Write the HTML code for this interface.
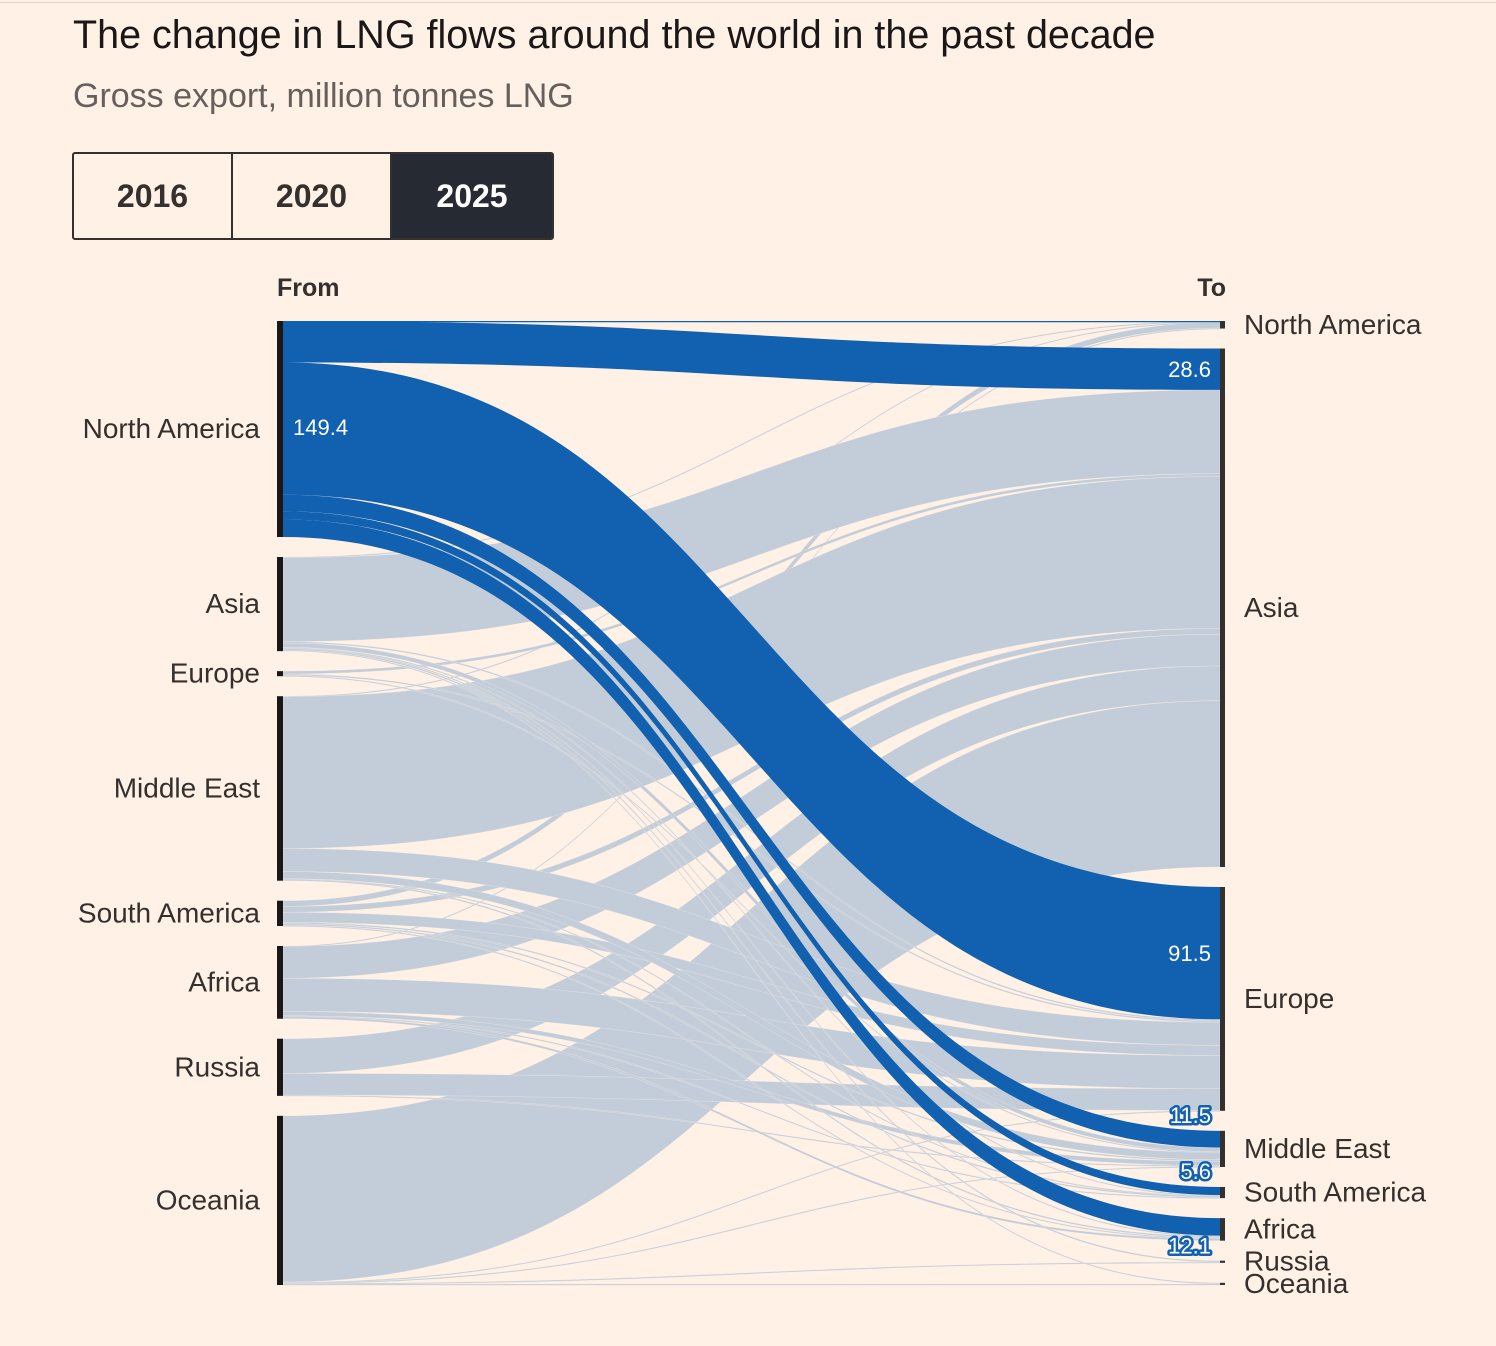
<!DOCTYPE html>
<html><head><meta charset="utf-8">
<style>
body{margin:0;background:#fff1e5;font-family:"Liberation Sans",sans-serif;}
#wrap{position:relative;width:1496px;height:1346px;overflow:hidden;background:#fff1e5;}
.title{position:absolute;left:73px;top:13px;font-size:39.5px;color:#1a1817;}
.sub{position:absolute;left:73px;top:77px;font-size:34px;color:#66605c;}
.btns{position:absolute;left:72px;top:152px;display:flex;border:2px solid #33302e;border-radius:3px;overflow:hidden;height:84px;}
.btn{width:157px;display:flex;align-items:center;justify-content:center;font-weight:bold;font-size:32px;color:#33302e;border-right:2px solid #33302e;}
.btn:last-child{border-right:none;background:#262a33;color:#fff;width:160px}
svg{position:absolute;left:0;top:0}
</style></head><body>
<div id="wrap">
<div style="position:absolute;left:0;top:2px;width:1496px;height:1px;background:#e0d6cc"></div>
<div class="title">The change in LNG flows around the world in the past decade</div>
<div class="sub">Gross export, million tonnes LNG</div>
<div class="btns">
<div class="btn">2016</div>
<div class="btn">2020</div>
<div class="btn">2025</div>
</div>
<svg id="chart" width="1496" height="1346"></svg>
</div>
<script>
const regions = ["North America","Asia","Europe","Middle East","South America","Africa","Russia","Oceania"];
// flows[source] = values to each target (same order as regions)
const flowsNorthAmerica = [0.1, 28.6, 91.5, 11.5, 5.6, 12.1, 0, 0];
const flowsAsia         = [0.5, 58, 1, 3, 0.3, 0.5, 1, 0.8];
const flowsEurope       = [0, 2, 1, 0.5, 0, 0, 0, 0];
const flowsMiddleEast   = [0.3, 105, 16, 5, 0.3, 1, 0, 0];
const flowsSouthAmerica = [4, 4, 7, 1, 1, 0.5, 0, 0];
const flowsAfrica       = [0.3, 22, 23, 3, 0.5, 1.5, 0, 0];
const flowsRussia       = [0, 24, 15, 0.5, 0, 0, 0, 0];
const flowsOceania      = [0, 115, 0.3, 0.5, 0, 0, 0.5, 0.7];
const highlightSource = 0;

const flows=[flowsNorthAmerica,flowsAsia,flowsEurope,flowsMiddleEast,flowsSouthAmerica,flowsAfrica,flowsRussia,flowsOceania];
const NS="http://www.w3.org/2000/svg";
const svg=document.getElementById('chart');
const top0=321,bot=1285,gap=20,xL=283,xR=1220;
const n=regions.length;
const outT=regions.map((_,i)=>flows[i].reduce((a,b)=>a+b,0));
const inT=regions.map((_,j)=>flows.reduce((a,r)=>a+r[j],0));
const sum=a=>a.reduce((x,y)=>x+y,0);
const ky=Math.min((bot-top0-(n-1)*gap)/sum(outT),(bot-top0-(n-1)*gap)/sum(inT));
function yScale(v){return v*ky;}
function layout(tot){let y=top0;return tot.map(t=>{const o={y0:y,y1:y+yScale(t)};y=o.y1+gap;return o;});}
const L=layout(outT),R=layout(inT);
function el(tag,attrs,parent){const e=document.createElementNS(NS,tag);for(const k in attrs)e.setAttribute(k,attrs[k]);(parent||svg).appendChild(e);return e;}
const links=[];
const sOff=L.map(o=>o.y0),tOff=R.map(o=>o.y0);
for(let i=0;i<n;i++)for(let j=0;j<n;j++){const v=flows[i][j];const h=yScale(v);
 links.push({i,j,v,sy:sOff[i],ty:0,h});sOff[i]+=h;}
links.sort((a,b)=>a.j-b.j||a.i-b.i).forEach(l=>{l.ty=tOff[l.j];tOff[l.j]+=l.h;});
const gL=el('g',{}),gB=el('g',{});




const xm=(xL+xR)/2;
links.forEach(l=>{if(l.v<=0)return;
 const h=Math.max(l.h,1.2);
 const d=`M${xL},${l.sy}C${xm},${l.sy} ${xm},${l.ty} ${xR},${l.ty}L${xR},${l.ty+h}C${xm},${l.ty+h} ${xm},${l.sy+h} ${xL},${l.sy+h}Z`;
 const hi=l.i===highlightSource;
 const p=el('path',{d,fill:hi?'#1161b0':'#c3cdd9',stroke:hi?'none':'#fff1e5','stroke-width':hi?0:0.4,'stroke-opacity':0.6},hi?gB:gL);
 
 
});
regions.forEach((r,k)=>{
 const a=el('rect',{x:277,y:L[k].y0,width:6,height:Math.max(L[k].y1-L[k].y0,1.5),fill:'#1a1817'});
 
 
 const b=el('rect',{x:1220,y:R[k].y0,width:5,height:Math.max(R[k].y1-R[k].y0,1.5),fill:'#33302e'});
 
 
 const t1=el('text',{x:260,y:(L[k].y0+L[k].y1)/2+9,'text-anchor':'end','font-size':28,fill:'#33302e'});t1.textContent=r;
 
 
 const t2=el('text',{x:1244,y:(R[k].y0+R[k].y1)/2+9,'font-size':28,fill:'#33302e'});t2.textContent=r;
 
 
});
const f=el('text',{x:277,y:296,'font-size':25,'font-weight':'bold',fill:'#33302e'});f.textContent='From';


const t=el('text',{x:1226,y:296,'font-size':25,'font-weight':'bold',fill:'#33302e','text-anchor':'end'});t.textContent='To';


const tv=el('text',{x:293,y:(L[highlightSource].y0+L[highlightSource].y1)/2+6,'font-size':22,fill:'#fff'});
tv.textContent=(outT[highlightSource]-flowsNorthAmerica[0]*0+0).toFixed(1)==='149.4'?'149.4':outT[highlightSource].toFixed(1);


const hl=links.filter(l=>l.i===highlightSource&&l.v>=1);
hl.forEach((l,idx)=>{
 const c=l.ty+l.h/2;let y=c+8,small=l.h<30;
 if(small){y=(idx===hl.length-1)?l.ty+l.h+18:l.ty-8;}
 const tx=el('text',{x:1211,y,'font-size':22,fill:'#fff','text-anchor':'end'});
 if(small){tx.setAttribute('stroke','#1161b0');tx.setAttribute('stroke-width','5');tx.setAttribute('paint-order','stroke');tx.setAttribute('stroke-linejoin','round');}
 tx.textContent=l.v.toFixed(1);
 
 
});
</script>
</body></html>
